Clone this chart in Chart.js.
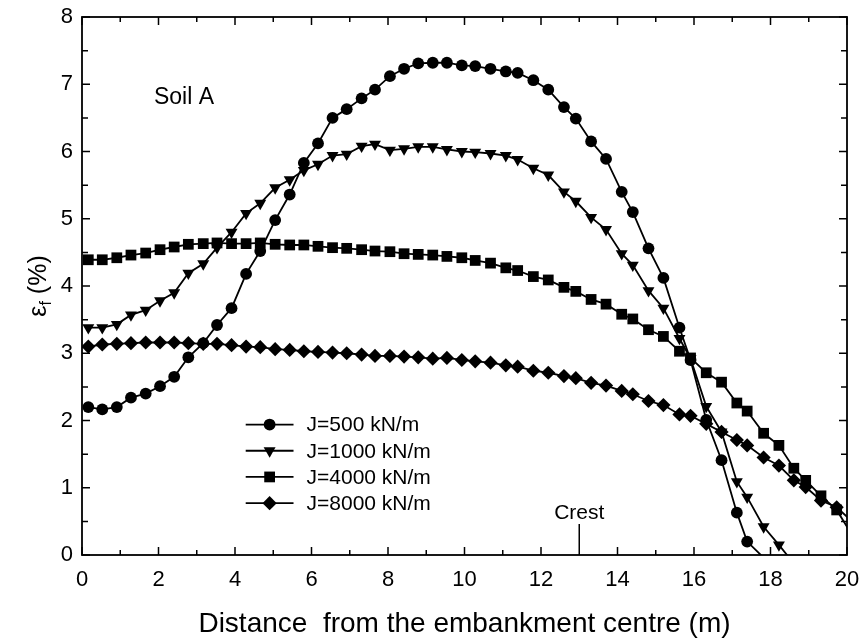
<!DOCTYPE html>
<html><head><meta charset="utf-8">
<script src="https://cdn.jsdelivr.net/npm/chart.js@4.4.0/dist/chart.umd.min.js"></script>
<style>html,body{margin:0;padding:0;background:#fff;}</style>
</head><body>
<canvas id="c" width="865" height="641" style="display:block;width:865px;height:641px"></canvas>
<script>
// ---- data ----
const distance = [0.165,0.53,0.91,1.28,1.665,2.04,2.41,2.78,3.17,3.53,
  3.91,4.29,4.66,5.05,5.43,5.80,6.17,6.55,6.92,7.31,
  7.66,8.05,8.42,8.79,9.17,9.54,9.93,10.28,10.68,11.08,
  11.39,11.80,12.19,12.60,12.91,13.31,13.70,14.11,14.40,14.81,
  15.20,15.62,15.91,16.32,16.72,17.12,17.39,17.82,18.22,18.61,
  18.92,19.32,19.73];
const j500 = [2.20,2.165,2.20,2.34,2.40,2.51,2.65,2.94,3.15,3.42,
  3.67,4.18,4.52,4.98,5.36,5.83,6.12,6.50,6.63,6.79,
  6.92,7.12,7.23,7.31,7.32,7.32,7.28,7.27,7.23,7.19,
  7.17,7.06,6.92,6.66,6.49,6.15,5.89,5.40,5.10,4.56,
  4.12,3.38,2.90,2.01,1.41,0.63,0.20];
const j1000 = [3.38,3.38,3.43,3.57,3.64,3.78,3.90,4.19,4.33,4.57,
  4.80,5.08,5.23,5.46,5.58,5.72,5.81,5.94,5.96,6.08,
  6.11,6.02,6.04,6.07,6.07,6.03,6.00,5.99,5.97,5.94,
  5.88,5.75,5.65,5.40,5.26,5.02,4.84,4.48,4.31,3.93,
  3.67,3.22,2.92,2.21,1.83,1.09,0.86,0.42,0.15];
const j4000 = [4.39,4.39,4.42,4.46,4.49,4.54,4.58,4.62,4.63,4.64,
  4.63,4.63,4.64,4.62,4.61,4.61,4.59,4.57,4.56,4.54,
  4.52,4.51,4.48,4.47,4.46,4.44,4.42,4.38,4.34,4.27,
  4.23,4.14,4.09,3.98,3.92,3.80,3.73,3.58,3.51,3.35,
  3.25,3.03,2.93,2.71,2.57,2.26,2.14,1.81,1.63,1.29,
  1.11,0.88,0.67];
const j8000 = [3.10,3.13,3.14,3.15,3.16,3.16,3.16,3.15,3.14,3.14,
  3.12,3.10,3.09,3.06,3.05,3.03,3.02,3.01,3.00,2.98,
  2.96,2.96,2.95,2.94,2.92,2.93,2.90,2.88,2.86,2.82,
  2.80,2.74,2.71,2.66,2.63,2.56,2.52,2.44,2.39,2.29,
  2.23,2.09,2.07,1.95,1.83,1.71,1.63,1.45,1.33,1.11,
  1.01,0.81,0.71];
// where each curve leaves the plotting frame (clipped, no marker visible)
const exitX = [18.0, 18.6, 20.3, 20.3];
const exitY = [-0.14, -0.12, 0.14, 0.41];
const seriesNames = ['J=500 kN/m','J=1000 kN/m','J=4000 kN/m','J=8000 kN/m'];
const xTickValues = [0,2,4,6,8,10,12,14,16,18,20];
const yTickValues = [0,1,2,3,4,5,6,7,8];
const crestX = 13;
const xTitle = 'Distance  from the embankment centre (m)';
const soilLabel = 'Soil A';
const crestLabel = 'Crest';

const FONT = '"Liberation Sans", Arial, Helvetica, sans-serif';
const styles = [
  {pointStyle:'circle', radius:5.9, rotation:0},
  {pointStyle:'triangle', radius:6.9, rotation:180},
  {pointStyle:'rect', radius:7.6, rotation:0},
  {pointStyle:'rectRot', radius:7.1, rotation:0}
];
const allY = [j500, j1000, j4000, j8000];

const datasets = allY.map((ys, k) => {
  const pts = ys.map((y, i) => ({x: distance[i], y}));
  pts.push({x: exitX[k], y: exitY[k]});
  return {
    label: seriesNames[k],
    data: pts,
    borderColor: '#000',
    backgroundColor: '#000',
    borderWidth: 1.8,
    pointBackgroundColor: '#000',
    pointBorderWidth: 0,
    pointStyle: styles[k].pointStyle,
    pointRadius: styles[k].radius,
    pointRotation: styles[k].rotation,
    pointHoverRadius: styles[k].radius,
    tension: 0,
    clip: 0
  };
});

const decorPlugin = {
  id: 'decor',
  afterDatasetsDraw(chart) {
    const {ctx, chartArea: a, scales: {x, y}} = chart;
    ctx.save();
    ctx.strokeStyle = '#000';
    ctx.lineWidth = 1.8;
    ctx.strokeRect(a.left, a.top, a.right - a.left, a.bottom - a.top);
    ctx.lineWidth = 1.5;
    ctx.beginPath();
    const xt = x.ticks.map(t => t.value);
    for (let i = 0; i < xt.length; i++) {
      const px = x.getPixelForValue(xt[i]);
      ctx.moveTo(px, a.bottom); ctx.lineTo(px, a.bottom - 8);
      ctx.moveTo(px, a.top); ctx.lineTo(px, a.top + 8);
      if (i < xt.length - 1) {
        const pm = x.getPixelForValue((xt[i] + xt[i+1]) / 2);
        ctx.moveTo(pm, a.bottom); ctx.lineTo(pm, a.bottom - 5);
        ctx.moveTo(pm, a.top); ctx.lineTo(pm, a.top + 5);
      }
    }
    const yt = y.ticks.map(t => t.value);
    for (let i = 0; i < yt.length; i++) {
      const py = y.getPixelForValue(yt[i]);
      ctx.moveTo(a.left, py); ctx.lineTo(a.left + 8, py);
      ctx.moveTo(a.right, py); ctx.lineTo(a.right - 8, py);
      if (i < yt.length - 1) {
        const pm = y.getPixelForValue((yt[i] + yt[i+1]) / 2);
        ctx.moveTo(a.left, pm); ctx.lineTo(a.left + 6, pm);
        ctx.moveTo(a.right, pm); ctx.lineTo(a.right - 6, pm);
      }
    }
    const cx = x.getPixelForValue(crestX);
    ctx.moveTo(cx, a.bottom); ctx.lineTo(cx, a.bottom - 31);
    ctx.stroke();

    ctx.fillStyle = '#000';
    ctx.textBaseline = 'middle';
    ctx.textAlign = 'center';
    ctx.font = '21px ' + FONT;
    ctx.fillText(crestLabel, cx, a.bottom - 42);

    ctx.textAlign = 'left';
    ctx.font = '23px ' + FONT;
    ctx.fillText(soilLabel, x.getPixelForValue(1.88), y.getPixelForValue(6.80));

    // legend
    const lx0 = x.getPixelForValue(4.28), lx1 = x.getPixelForValue(5.53);
    const lm = (lx0 + lx1) / 2;
    const ly0 = y.getPixelForValue(1.94);
    ctx.font = '21px ' + FONT;
    for (let k = 0; k < seriesNames.length; k++) {
      const ly = ly0 + k * 26.2;
      ctx.beginPath();
      ctx.lineWidth = 1.8;
      ctx.moveTo(lx0, ly); ctx.lineTo(lx1, ly);
      ctx.stroke();
      Chart.helpers.drawPoint(ctx, {pointStyle: styles[k].pointStyle, radius: styles[k].radius, rotation: styles[k].rotation, borderWidth: 0}, lm, ly);
      ctx.fillText(seriesNames[k], lx1 + 13, ly + 1);
    }

    // y-axis title with subscript: ε_f (%)
    ctx.save();
    ctx.translate(38, (a.top + a.bottom) / 2);
    ctx.rotate(-Math.PI / 2);
    const f1 = '25px ' + FONT, f2 = '16px ' + FONT;
    ctx.font = f1; const w1 = ctx.measureText('ε').width;
    ctx.font = f2; const w2 = ctx.measureText('f').width;
    ctx.font = f1; const w3 = ctx.measureText(' (%)').width;
    let sx = -(w1 + w2 + w3) / 2;
    ctx.textAlign = 'left';
    ctx.textBaseline = 'alphabetic';
    ctx.font = f1; ctx.fillText('ε', sx, 8); sx += w1;
    ctx.font = f2; ctx.fillText('f', sx, 13); sx += w2;
    ctx.font = f1; ctx.fillText(' (%)', sx, 8);
    ctx.restore();
    ctx.restore();
  }
};

new Chart(document.getElementById('c'), {
  type: 'line',
  data: {datasets},
  plugins: [decorPlugin],
  options: {
    responsive: false,
    animation: false,
    devicePixelRatio: 1,
    layout: {padding: {left: 0, right: 18, top: 17, bottom: 0}},
    plugins: {legend: {display: false}, tooltip: {enabled: false}},
    scales: {
      x: {
        type: 'linear', min: 0, max: 20,
        afterBuildTicks: s => { s.ticks = xTickValues.map(v => ({value: v})); },
        afterFit: s => { s.height = 86; s.paddingLeft = 0; s.paddingRight = 0; },
        grid: {display: false, drawTicks: false},
        border: {display: false},
        ticks: {color: '#000', padding: 12, maxRotation: 0, font: {family: FONT, size: 22}},
        title: {display: true, text: xTitle, color: '#000', font: {family: FONT, size: 28}, padding: {top: 6, bottom: 0}}
      },
      y: {
        type: 'linear', min: 0, max: 8,
        afterBuildTicks: s => { s.ticks = yTickValues.map(v => ({value: v})); },
        afterFit: s => { s.width = 82; s.paddingTop = 0; s.paddingBottom = 0; },
        grid: {display: false, drawTicks: false},
        border: {display: false},
        ticks: {color: '#000', padding: 9, font: {family: FONT, size: 22}},
        title: {display: false}
      }
    }
  }
});
</script>
</body></html>
